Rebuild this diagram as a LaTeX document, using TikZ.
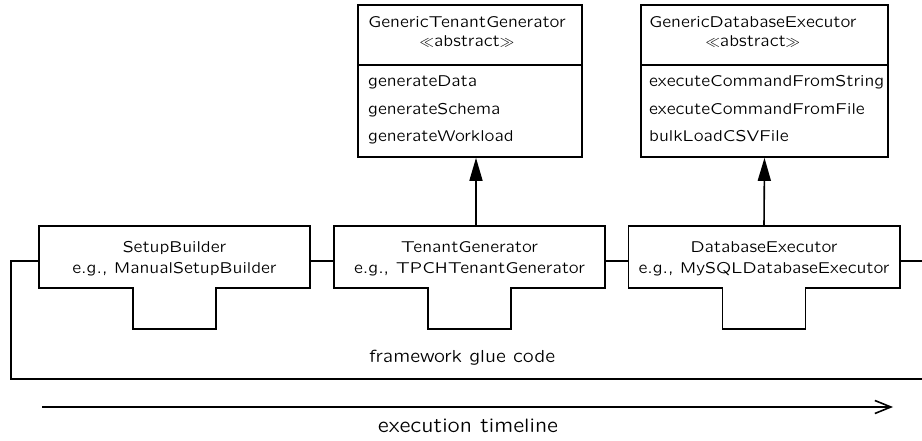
\documentclass[tikz,border=0pt]{standalone}
\usepackage{fontspec}
\setsansfont{Latin Modern Sans Quotation}
\usetikzlibrary{arrows.meta}
\begin{document}
\begin{tikzpicture}[x=1pt,y=-1pt,
  every node/.style={font=\sffamily\fontsize{15.8}{19}\selectfont, inner sep=0pt},
  boxline/.style={line width=1.6pt, line join=miter},
  umlbox/.style={draw, line width=1.6pt, minimum width=#1, minimum height=152pt},
  plainbox/.style={minimum width=271pt, minimum height=61pt},
  biglabel/.style={font=\sffamily\fontsize{#1}{22}\selectfont},
  inherit/.style={line width=1.6pt, -{Triangle[length=23pt,width=13pt]}},
  timeline/.style={line width=1.6pt, -{Straight Barb[length=16pt,width=13pt]}}
]
\useasboundingbox (0,0) rectangle (922,441);

% abstract classes
\node[umlbox=224pt] (gtg) at (470,81) {};
\draw[boxline] (gtg.west |- 0,65) -- (gtg.east |- 0,65);
\node[anchor=base west] (gtgt) at (368,28) {GenericTenantGenerator};
\node[anchor=base] (gtga) at (gtgt.base |- 0,47) {$\ll$abstract$\gg$};
\node[anchor=base west] (gtg1) at (368,87) {generateData};
\node[anchor=base west] (gtg2) at (368,115) {generateSchema};
\node[anchor=base west] (gtg3) at (368,142) {generateWorkload};

\node[umlbox=247pt] (gde) at (764.5,81) {};
\draw[boxline] (gde.west |- 0,65) -- (gde.east |- 0,65);
\node[anchor=base west] (gdet) at (649,28) {GenericDatabaseExecutor};
\node[anchor=base] (gdea) at (gdet.base |- 0,47) {$\ll$abstract$\gg$};
\node[anchor=base west] (gde1) at (649,87) {executeCommandFromString};
\node[anchor=base west] (gde2) at (649,115) {executeCommandFromFile};
\node[anchor=base west] (gde3) at (649,142) {bulkLoadCSVFile};

% components with tabs
\newcommand\tabshape[1]{%
  \draw[boxline] ([xshift=-41.5pt]#1.south) -- (#1.south west) -- (#1.north west)
    -- (#1.north east) -- (#1.south east) -- ([xshift=41.5pt]#1.south)
    -- ++(0,41) -- ++(-83,0) -- cycle;}

\node[plainbox] (sb) at (174.5,257) {};
\tabshape{sb}
\node[anchor=base] (sbt) at (174.5,253) {SetupBuilder};
\node[anchor=base] (sbe) at (174.5,273) {e.g., ManualSetupBuilder};

\node[plainbox] (tg) at (469.5,257) {};
\tabshape{tg}
\node[anchor=base] (tgt) at (469.5,253) {TenantGenerator};
\node[anchor=base] (tge) at (469.5,273) {e.g., TPCHTenantGenerator};

\node[plainbox] (de) at (764,257) {};
\tabshape{de}
\node[anchor=base] (det) at (764,253) {DatabaseExecutor};
\node[anchor=base] (dee) at (764,273) {e.g., MySQLDatabaseExecutor};

% inheritance arrows
\coordinate (a1) at (476,0);
\draw[inherit] (tg.north -| a1) -- (gtg.south -| a1);
\draw[inherit] (de.north) -- (gde.south);

% framework glue code
\coordinate (y) at (0,261);
\coordinate (gl) at (11,261);
\coordinate (gb) at (11,379);
\coordinate (gbr) at (922,379);
\coordinate (gr) at (922,261);
\draw[boxline] (sb.west |- y) -- (gl) -- (gb) -- (gbr);
\draw[boxline] (sb.east |- y) -- (tg.west |- y);
\draw[boxline] (tg.east |- y) -- (de.west |- y);
\draw[boxline] (de.east |- y) -- (gr);
\node[anchor=base, biglabel=17.5] (glue) at (462,362) {framework glue code};

% timeline
\coordinate (ts) at (42,407);
\coordinate (te) at (893,407);
\draw[timeline] (ts) -- (te);
\node[anchor=base, biglabel=19.5] (tl) at (468,432) {execution timeline};
\end{tikzpicture}
\end{document}
